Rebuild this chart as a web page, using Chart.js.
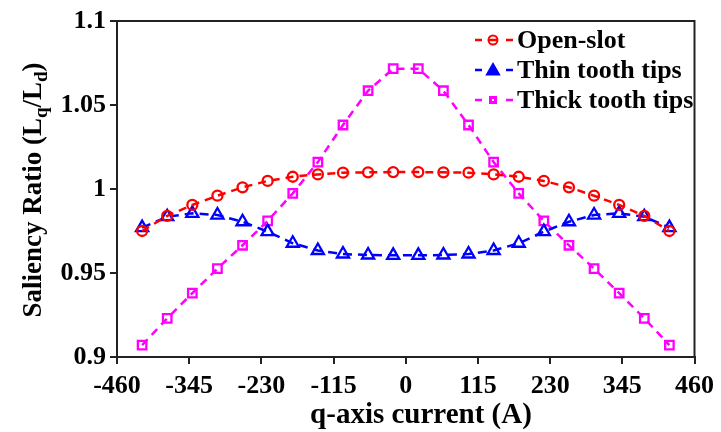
<!DOCTYPE html>
<html>
<head>
<meta charset="utf-8">
<script src="https://cdn.jsdelivr.net/npm/chart.js@4/dist/chart.umd.min.js"></script>
<style>
html,body{margin:0;padding:0;background:#fff;}
canvas{display:block;}
</style>
</head>
<body>
<canvas id="c" width="721" height="432"></canvas>
<script>
// ---- data ----
const current = [-420,-380,-340,-300,-260,-220,-180,-140,-100,-60,-20,20,60,100,140,180,220,260,300,340,380,420];
const openSlot = [0.975,0.984,0.9905,0.996,1.001,1.0048,1.0073,1.0087,1.0097,1.0099,1.0101,1.0101,1.0099,1.0097,1.0087,1.0073,1.0048,1.001,0.996,0.9905,0.984,0.975];
const thinTips = [0.977,0.9835,0.9855,0.9845,0.9805,0.9746,0.9677,0.9634,0.9613,0.9607,0.9605,0.9605,0.9607,0.9613,0.9634,0.9677,0.9746,0.9805,0.9845,0.9855,0.9835,0.977];
const thickTips = [0.9071,0.923,0.938,0.9526,0.9665,0.981,0.9974,1.016,1.0381,1.0585,1.0716,1.0716,1.0585,1.0381,1.016,0.9974,0.981,0.9665,0.9526,0.938,0.923,0.9071];
const xTicks = [-460,-345,-230,-115,0,115,230,345,460];
const yTicks = [0.9,0.95,1,1.05,1.1];
const seriesNames = ['Open-slot','Thin tooth tips','Thick tooth tips'];
const xTitle = 'q-axis current (A)';

const FONT = '"Liberation Serif","Times New Roman",serif';
const pts = arr => current.map((x,i)=>({x:x,y:arr[i]}));

function mkDs(label, data, color, style, radius, dash){
  return {
    label: label, data: pts(data),
    borderColor: color, borderWidth: 2.5, borderDash: dash,
    pointStyle: style, pointRadius: radius, pointHoverRadius: radius,
    pointBorderColor: color, pointBackgroundColor: 'rgba(0,0,0,0)',
    pointBorderWidth: 2.3, tension: 0, fill: false
  };
}

const decor = {
  id: 'decor',
  afterDraw(chart){
    const c = chart.ctx, ca = chart.chartArea;
    c.save();
    c.strokeStyle = '#222'; c.lineWidth = 2;
    c.strokeRect(ca.left, ca.top, ca.right-ca.left, ca.bottom-ca.top);
    // x title
    c.fillStyle = '#000';
    c.font = 'bold 29px ' + FONT;
    c.textAlign = 'center'; c.textBaseline = 'alphabetic';
    c.fillText(xTitle, 421, 423);
    // y title with subscripts
    const parts = [['Saliency Ratio (L',0],['q',1],['/L',0],['d',1],[')',0]];
    const mainF = 'bold 27px ' + FONT, subF = 'bold 19px ' + FONT;
    let total = 0;
    parts.forEach(p=>{ c.font = p[1]?subF:mainF; total += c.measureText(p[0]).width; });
    c.translate(41, 190); c.rotate(-Math.PI/2);
    c.textAlign = 'left';
    let x = -total/2;
    parts.forEach(p=>{ c.font = p[1]?subF:mainF; c.fillText(p[0], x, p[1]?6:0); x += c.measureText(p[0]).width; });
    c.setTransform(1,0,0,1,0,0);
    // legend
    const rowsY = [40, 70, 100];
    chart.data.datasets.forEach((ds,i)=>{
      const y = rowsY[i];
      c.strokeStyle = ds.borderColor; c.lineWidth = 2.5; c.setLineDash([]);
      c.beginPath();
      c.moveTo(475,y); c.lineTo(482,y);
      c.moveTo(489,y); c.lineTo(497,y);
      c.moveTo(506,y); c.lineTo(513,y);
      c.stroke();
      c.fillStyle = ds.borderColor;
      c.lineWidth = 2;
      if (ds.pointStyle === 'circle'){
        c.beginPath(); c.arc(493,y,4.5,0,Math.PI*2); c.stroke();
      } else if (ds.pointStyle === 'triangle'){
        c.beginPath(); c.moveTo(493,y-6); c.lineTo(499,y+4.5); c.lineTo(487,y+4.5); c.closePath(); c.fill(); c.stroke();
      } else {
        c.fillRect(489,y-4,8,8);
        c.fillStyle = '#fff'; c.fillRect(492,y-1,2,2);
      }
      c.fillStyle = '#000';
      c.font = 'bold 26px ' + FONT;
      c.textAlign = 'left'; c.textBaseline = 'alphabetic';
      c.fillText(ds.label, 517, y + 8);
    });
    c.restore();
  }
};

new Chart(document.getElementById('c'), {
  type: 'line',
  data: {
    datasets: [
      mkDs(seriesNames[0], openSlot, '#ff0000', 'circle', 5, [8,6]),
      mkDs(seriesNames[1], thinTips, '#0000ff', 'triangle', 7, [9,6]),
      mkDs(seriesNames[2], thickTips, '#ff00ff', 'rect', 6, [8,6])
    ]
  },
  options: {
    responsive: false, animation: false,
    layout: { padding: { left: 0, top: 21, right: 21, bottom: 0 } },
    plugins: { legend: { display: false }, tooltip: { enabled: false } },
    scales: {
      x: {
        type: 'linear', min: -460, max: 460,
        afterBuildTicks: s => { s.ticks = xTicks.map(v=>({value:v})); },
        afterFit: s => { s.height = 75; },
        ticks: { color: '#000', font: { family: FONT, size: 26, weight: 'bold' }, padding: 7, maxRotation: 0, autoSkip: false,
                 callback: v => String(v) },
        grid: { drawOnChartArea: false, drawTicks: true, tickLength: 7, color: '#222', lineWidth: 2 },
        border: { display: true, color: '#222', width: 2 }
      },
      y: {
        type: 'linear', min: 0.9, max: 1.1,
        afterBuildTicks: s => { s.ticks = yTicks.map(v=>({value:v})); },
        afterFit: s => { s.width = 117; },
        ticks: { color: '#000', font: { family: FONT, size: 26, weight: 'bold' }, padding: 4, autoSkip: false,
                 callback: v => String(v) },
        grid: { drawOnChartArea: false, drawTicks: true, tickLength: 7, color: '#222', lineWidth: 2 },
        border: { display: true, color: '#222', width: 2 }
      }
    }
  },
  plugins: [decor]
});
</script>
</body>
</html>
